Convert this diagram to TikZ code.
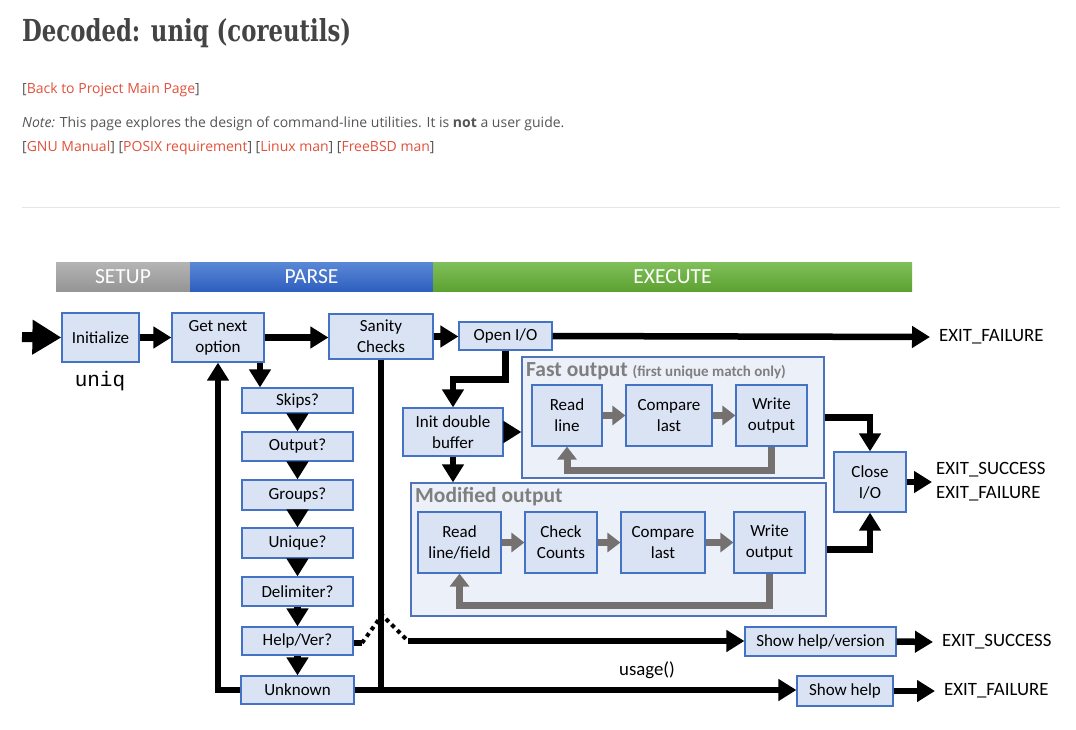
\documentclass[tikz,border=0pt]{standalone}
\usepackage{fontspec}
\usepackage{graphicx}
\setmainfont{Open Sans}
\newfontfamily\calf{Carlito}
\newfontfamily\titlef{DejaVu Serif}
\newfontfamily\monof{Liberation Mono}
\usetikzlibrary{arrows.meta,calc}
\definecolor{titlec}{HTML}{444444}
\definecolor{txtc}{HTML}{555555}
\definecolor{linkc}{HTML}{E2513B}
\definecolor{rulec}{HTML}{E6E6E6}
\definecolor{boxfill}{HTML}{DAE3F3}
\definecolor{boxline}{HTML}{4472C4}
\definecolor{grpfill}{HTML}{EBF0F9}
\definecolor{grpline}{HTML}{4F72B8}
\definecolor{grayc}{HTML}{767171}
\definecolor{grptitle}{HTML}{7F7F7F}
\definecolor{bargt}{HTML}{B4B4B4}
\definecolor{bargb}{HTML}{959595}
\definecolor{barbt}{HTML}{5A88D6}
\definecolor{barbb}{HTML}{2F5FBF}
\definecolor{barvt}{HTML}{80BF5A}
\definecolor{barvb}{HTML}{5DA231}
\tikzset{
  box/.style={draw=boxline, line width=1.2pt, fill=boxfill, inner sep=0pt, align=center,
    font=\calf\fontsize{17}{21}\selectfont},
  grp/.style={draw=grpline, line width=1.2pt, fill=grpfill, inner sep=0pt},
  grptxt/.style={inner sep=0pt, text=grptitle, font=\calf\bfseries\fontsize{21.5}{24}\selectfont},
  bar/.style={inner sep=0pt, text=white, font=\calf\fontsize{21.5}{24}\selectfont},
  exitlbl/.style={inner sep=0pt, align=left, font=\calf\fontsize{18.8}{24}\selectfont},
  pagetxt/.style={inner sep=0pt, text=txtc, font=\fontsize{14}{16}\selectfont},
  blk/.style={draw=black, line width=6.5pt},
  blka/.style={blk, -{Triangle[length=18pt,width=21pt]}},
  gry/.style={draw=grayc, line width=7pt},
  grya/.style={gry, -{Triangle[length=13pt,width=19pt]}},
  dotl/.style={draw=black, line width=4pt, dash pattern=on 4pt off 4pt}
}
\begin{document}
\begin{tikzpicture}[x=1pt,y=-1pt]
\fill[white] (0,0) rectangle (1076,729);
\useasboundingbox (0,0) rectangle (1076,729);

% page header
\node[anchor=base west, inner sep=0pt, text=titlec] (title) at (22,41)
  {\resizebox{329pt}{23pt}{\titlef\bfseries Decoded: uniq (coreutils)}};
\node[pagetxt, anchor=base west] (back) at (22,93) {[\textcolor{linkc}{Back to Project Main Page}]};
\node[pagetxt, anchor=base west] (note) at (22,127)
  {\textit{Note:} This page explores the design of command-line utilities. It is \textbf{not} a user guide.};
\node[pagetxt, anchor=base west] (links) at (22,151)
  {[\textcolor{linkc}{GNU Manual}] [\textcolor{linkc}{POSIX requirement}] [\textcolor{linkc}{Linux man}] [\textcolor{linkc}{FreeBSD man}]};
\draw[rulec, line width=1pt] (22,207) -- (1060,207);

% phase bars
\node[bar, top color=bargt, bottom color=bargb, minimum width=134pt, minimum height=29pt] (setup) at (123,276.5) {SETUP};
\node[bar, top color=barbt, bottom color=barbb, minimum width=243pt, minimum height=29pt] (parse) at (311.5,276.5) {PARSE};
\node[bar, top color=barvt, bottom color=barvb, minimum width=479pt, minimum height=29pt] (execute) at (672.5,276.5) {EXECUTE};

% groups
\node[grp, minimum width=302pt, minimum height=121pt] (fast) at (673,417.5) {};
\node[grptxt, anchor=west] (fastt) at (526,371) {Fast output \fontsize{15}{17}\selectfont(first unique match only)};
\node[grp, minimum width=415pt, minimum height=133pt] (mod) at (618.5,549.5) {};
\node[grptxt, anchor=west] (modt) at (415,497) {Modified output};

% setup / parse nodes
\coordinate (start) at (22,337);
\node[box, minimum width=77pt, minimum height=49pt] (init) at (100.5,337.5) {Initialize};
\node[inner sep=0pt, font=\monof\fontsize{21}{24}\selectfont] (uniqlbl) at (100,381) {uniq};
\node[box, minimum width=92pt, minimum height=49pt] (gno) at (218,337.5) {Get next\\option};
\node[box, minimum width=104pt, minimum height=45pt] (san) at (381,336.5) {Sanity\\Checks};
\node[box, minimum width=111pt, minimum height=25pt] (skips) at (297.5,400.5) {Skips?};
\node[box, minimum width=111pt, minimum height=29pt] (outp) at (297.5,446.5) {Output?};
\node[box, minimum width=111pt, minimum height=30pt] (groups) at (297.5,495) {Groups?};
\node[box, minimum width=111pt, minimum height=30pt] (uniqq) at (297.5,543) {Unique?};
\node[box, minimum width=111pt, minimum height=29pt] (delim) at (297.5,591.5) {Delimiter?};
\node[box, minimum width=111pt, minimum height=28pt] (help) at (297.5,641) {Help/Ver?};
\node[box, minimum width=113pt, minimum height=28pt] (unknown) at (297.5,690) {Unknown};

% execute nodes
\node[box, minimum width=93pt, minimum height=28pt] (oio) at (505.5,336) {Open I/O};
\node[box, minimum width=100pt, minimum height=48pt] (idb) at (453,432) {Init double\\buffer};
\node[box, minimum width=70pt, minimum height=61pt] (rl1) at (567,415.5) {Read\\line};
\node[box, minimum width=86pt, minimum height=61pt] (cl1) at (669,415.5) {Compare\\last};
\node[box, minimum width=71pt, minimum height=61pt] (wo1) at (771.5,415.5) {Write\\output};
\node[box, minimum width=83pt, minimum height=61pt] (rl2) at (459.5,542.5) {Read\\line/field};
\node[box, minimum width=72pt, minimum height=61pt] (cc2) at (561,542.5) {Check\\Counts};
\node[box, minimum width=84pt, minimum height=61pt] (cl2) at (663,542.5) {Compare\\last};
\node[box, minimum width=71pt, minimum height=61pt] (wo2) at (769.5,542.5) {Write\\output};
\node[box, minimum width=72pt, minimum height=60pt] (close) at (870,482) {Close\\I/O};
\node[box, minimum width=151pt, minimum height=29pt] (shv) at (820.5,641.5) {Show help/version};
\node[box, minimum width=96pt, minimum height=30pt] (sh) at (845,691) {Show help};

% exit labels
\node[exitlbl, anchor=west] (ef1) at (939,337) {EXIT\_FAILURE};
\node[exitlbl, anchor=west] (cexit) at (936,482) {EXIT\_SUCCESS\\EXIT\_FAILURE};
\node[exitlbl, anchor=west] (es3) at (942,642) {EXIT\_SUCCESS};
\node[exitlbl, anchor=west] (ef3) at (944,691) {EXIT\_FAILURE};
\node[exitlbl] (usage) at (647,670) {usage()};

% connectors: main line
\draw[draw=black, line width=10pt, -{Triangle[length=29pt,width=33pt]}] (start) -- (init.west);
\draw[blka] (init) -- (gno);
\draw[blka] (gno.east) -- (san.west |- gno.east);
\draw[blka] (san.east) -- (oio.west |- san.east);
\draw[blka] (oio.east) -- ([xshift=-9pt]ef1.west);

% parse chain
\draw[blka] ([xshift=42pt]gno.south) -- ([xshift=42pt]gno.south |- skips.north);
\draw[blka] (skips) -- (outp);
\draw[blka] (outp) -- (groups);
\draw[blka] (groups) -- (uniqq);
\draw[blka] (uniqq) -- (delim);
\draw[blka] (delim) -- (help);
\draw[blka] (help) -- (unknown);
\draw[blka] (unknown.west) -| (gno.south);
\draw[blk] (san.south) -- (san.south |- unknown.center);
\draw[blka] (unknown.east) -- (unknown.east -| sh.west);
\draw[blka] (sh.east) -- ([xshift=-9pt]ef3.west);

% help/version path
\coordinate (d1) at (362,643);
\coordinate (d2) at (382,615);
\coordinate (d3) at (408,641);
\draw[blk] (help.east |- d1) -- (d1);
\draw[dotl] (d1) -- (d2) -- (d3);
\draw[blka] (d3) -- (d3 -| shv.west);
\draw[blka] (shv.east) -- ([xshift=-9pt]es3.west);

% execute connectors
\draw[blka] (oio.south) -- ++(0,29) -| (idb.north);
\draw[blka] (idb.east) -- (idb.east -| fast.west);
\draw[blka] (idb.south) -- (idb.south |- mod.north);
\draw[blka] (fast.east) -| (close.north);
\draw[blka] (mod.east) -| (close.south);
\draw[blka] (close.east) -- ([xshift=-4pt]cexit.west);

% gray inner arrows
\draw[grya] (rl1) -- (cl1);
\draw[grya] (cl1) -- (wo1);
\draw[grya] (wo1.south) -- ++(0,24) -| (rl1.south);
\draw[grya] (rl2) -- (cc2);
\draw[grya] (cc2) -- (cl2);
\draw[grya] (cl2) -- (wo2);
\draw[grya] (wo2.south) -- ++(0,32) -| (rl2.south);
\end{tikzpicture}
\end{document}
